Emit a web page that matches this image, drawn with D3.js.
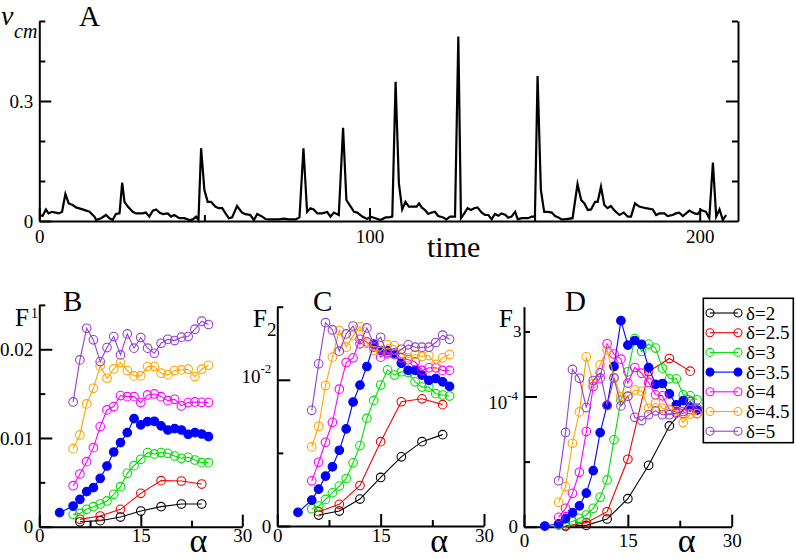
<!DOCTYPE html>
<html><head><meta charset="utf-8">
<script src="https://cdn.jsdelivr.net/npm/d3@7"></script>
<style>
html,body{margin:0;padding:0;background:#fff;}
svg{display:block;}
</style></head><body>
<svg id="chart" width="796" height="559"></svg>
<script>
// ---------- DATA ----------
// Panel A: centre-of-mass velocity vs time
const timeT = [0,1,2,2.8,3.8,4.9,5.9,6.9,7.9,8.9,10.1,11.1,13.1,15.2,16.7,17.2,18.7,20.2,21.2,22.2,23.2,24.3,25.1,25.8,26.8,28.3,29.3,31.3,32.3,33.3,34.4,35.4,36.4,37.4,38.9,39.9,40.9,42.4,43.9,45.5,46.5,47.5,48.2,49,50,51,52,53.3,54.3,55.4,56.4,57.4,58.4,59.9,61.4,62.4,63.9,65,66,67.5,68.5,69.5,72.5,74,75.6,77.6,78.8,80,81.1,82.1,83.1,84.2,85.7,87.2,88.2,89.2,90.7,92,93,94.3,95.3,96.3,97.8,99.3,100.3,101.8,103.3,104.9,105.9,106.9,107.9,108.9,109.9,110.9,111.9,113.2,114.3,115,115.8,116.8,117.8,118.8,119.8,120.8,122.3,123.3,124.4,125.9,126.9,127.7,128.7,129.7,130.7,131.7,132.7,134,135,136,137,138,139,140,141.2,142,143,144.1,144.9,146.1,148.1,149.1,150.1,150.9,151.9,152.9,154,155.2,156.2,157.2,158.2,159.2,161.5,163,164.1,165.1,166.1,167.1,168.3,169.1,170.1,171.1,172.1,173.1,174.2,175.7,177,178.2,179.2,180.4,181.7,183.7,185.8,186.8,187.8,189.3,190.3,191.8,192.8,193.8,194.9,196.9,198.4,199.4,200.4,201.9,202.9,204,205,206,207,208];
const timeV = [0.015,0.0125,0.029,0.019,0.023,0.021,0.019,0.023,0.0675,0.044,0.040,0.034,0.029,0.023,0.011,0.0025,0.007,0.015,0.007,0.0025,0.0175,0.019,0.096,0.048,0.036,0.023,0.019,0.019,0.021,0.011,0.026,0.029,0.021,0.0175,0.019,0.011,0.015,0.007,0.007,0.0025,0.004,0.011,0.0025,0.182,0.0775,0.048,0.048,0.036,0.032,0.032,0.019,0.007,0.009,0.0375,0.021,0.017,0.015,0.0025,0.0175,0.011,0.005,0.004,0.004,0.006,0.004,0.004,0.009,0.182,0.023,0.032,0.029,0.019,0.019,0.0225,0.011,0.021,0.015,0.233,0.0525,0.036,0.023,0.021,0.011,0.005,0.011,0.007,0.0025,0.009,0.009,0.011,0.348,0.094,0.029,0.048,0.036,0.036,0.036,0.044,0.034,0.0275,0.0175,0.021,0.023,0.0125,0.009,0.004,0.011,0.011,0.461,0.007,0.019,0.032,0.0275,0.032,0.034,0.021,0.015,0.015,0.004,0.0175,0.013,0.019,0.015,0.008,0.011,0.023,0.004,0.007,0.007,0.011,0.011,0.3625,0.0775,0.023,0.023,0.021,0.0125,0.009,0.004,0.004,0.007,0.0925,0.0525,0.044,0.0275,0.029,0.048,0.048,0.086,0.040,0.032,0.0375,0.026,0.015,0.021,0.011,0.011,0.044,0.036,0.032,0.029,0.015,0.019,0.019,0.0125,0.015,0.019,0.021,0.0125,0.026,0.019,0.0175,0.0275,0.023,0.007,0.146,0.011,0.029,0.0025,0.015];

// alpha grids
const alphaCoarse = [6,9,12,15,18,21,24];
const alphaFine = [5,6,7,8,9,10,11,12,13,14,15,16,17,18,19,20,21,22,23,24,25];
const alphaBlue = [3,5,6,7,8,9,10,11,12,13,14,15,16,17,18,19,20,21,22,23,24,25];

const deltaLabels = ["δ=2","δ=2.5","δ=3","δ=3.5","δ=4","δ=4.5","δ=5"];
const seriesColors = ["#000000","#f00000","#00e000","#0000ff","#ff00ff","#ffa500","#9440d0"];

// Panel B: F1
const f1_2  = [0.00056,0.00068,0.00109,0.00177,0.00226,0.00256,0.00256];
const f1_25 = [0.00083,0.0012,0.00196,0.00376,0.00519,0.00515,0.00481];
const f1_3  = [0.00139,0.0015,0.00196,0.00226,0.00256,0.0029,0.00365,0.00451,0.00602,0.00688,0.0076,0.00835,0.0082,0.00835,0.00827,0.00797,0.00771,0.00782,0.00752,0.00722,0.00722];
const f1_35 = [0.00158,0.00233,0.00308,0.00395,0.0044,0.00545,0.00684,0.00842,0.00948,0.0106,0.01218,0.01147,0.01184,0.01188,0.01136,0.0109,0.01105,0.0109,0.01042,0.0106,0.01045,0.01015];
const f1_4  = [0.00462,0.00594,0.00733,0.00891,0.01128,0.01316,0.01354,0.01478,0.01466,0.01466,0.01399,0.01485,0.01496,0.01466,0.01421,0.01436,0.01361,0.01399,0.01406,0.01402,0.01399];
const f1_45 = [0.0088,0.01034,0.01384,0.0156,0.01812,0.01673,0.01778,0.0185,0.0176,0.017,0.017,0.01805,0.01805,0.0173,0.01711,0.0176,0.01767,0.01775,0.01692,0.01775,0.0182];
const f1_5  = [0.01406,0.0188,0.02237,0.02106,0.01861,0.02019,0.02143,0.01936,0.02173,0.02012,0.02132,0.02012,0.01955,0.02068,0.02113,0.02098,0.02136,0.02143,0.02226,0.02316,0.02279];

// Panel C: F2
const f2_2  = [0.00075,0.00102,0.00184,0.00332,0.00473,0.00577,0.00625];
const f2_25 = [0.00098,0.00148,0.00277,0.00577,0.0085,0.0087,0.0083];
const f2_3  = [0.00118,0.00136,0.00182,0.00227,0.00273,0.00325,0.00432,0.0055,0.00736,0.00859,0.00964,0.01068,0.01032,0.01055,0.0105,0.00986,0.0095,0.0095,0.00905,0.00896,0.00889];
const f2_35 = [0.00093,0.00177,0.00252,0.00341,0.00405,0.00518,0.00664,0.00848,0.00964,0.01091,0.01241,0.012,0.012,0.01182,0.01114,0.01064,0.01064,0.01032,0.00996,0.01009,0.00986,0.00955];
const f2_4  = [0.00309,0.00436,0.00573,0.00709,0.00936,0.01118,0.0115,0.01277,0.01259,0.01223,0.01155,0.01187,0.01177,0.0115,0.01137,0.01123,0.01064,0.01082,0.01082,0.01064,0.01064];
const f2_45 = [0.00541,0.00682,0.00961,0.01155,0.01337,0.01223,0.01302,0.01364,0.0125,0.012,0.01196,0.01241,0.01234,0.01177,0.0115,0.01173,0.01159,0.01166,0.01105,0.0115,0.01173];
const f2_5  = [0.00791,0.01109,0.01391,0.01341,0.01196,0.01314,0.01368,0.01246,0.01355,0.01246,0.01291,0.01177,0.01173,0.01209,0.01239,0.01223,0.01223,0.01223,0.01255,0.01305,0.01277];

// Panel D: F3 (units of 1e-4)
const f3_2  = [0.005,0.01,0.059,0.215,0.472,0.774,0.96];
const f3_25 = [0.005,0.031,0.115,0.518,1.192,1.292,1.195];
const f3_3  = [0.01,0.026,0.04,0.064,0.09,0.141,0.226,0.359,0.667,0.97,1.19,1.445,1.346,1.403,1.372,1.218,1.136,1.136,1.013,1.005,0.975];
const f3_35 = [0.005,0.022,0.064,0.108,0.16,0.258,0.431,0.723,0.932,1.231,1.583,1.395,1.43,1.40,1.222,1.094,1.10,1.02,0.936,0.969,0.92,0.895];
const f3_4  = [0.072,0.141,0.256,0.418,0.731,1.077,1.141,1.405,1.326,1.287,1.103,1.223,1.179,1.108,1.013,1.005,0.9,0.88,0.87,0.9,0.87];
const f3_45 = [0.187,0.308,0.641,0.882,1.305,1.1,1.244,1.359,1.148,1.0,1.0,1.05,1.04,0.91,0.949,0.91,0.897,0.892,0.8,0.865,0.867];
const f3_5  = [0.353,0.724,1.208,1.14,0.915,1.123,1.182,0.932,1.141,0.928,1.003,0.84,0.815,0.86,0.89,0.86,0.86,0.872,0.885,0.962,0.91];

const xTicksAlphaMajor = [0,15,30];
const xTicksAlphaMinor = [7.5,22.5];

// ---------- DRAW ----------
const FONT = "Liberation Serif, Times New Roman, Times, Nimbus Roman, Nimbus Roman No9 L, Tinos, Noto Serif, DejaVu Serif, FreeSerif, serif";
const svg = d3.select("#chart").attr("font-family", FONT);

function styleAxis(g, fs) {
  g.attr("font-family", FONT).attr("font-size", fs || 19);
  g.selectAll("path,line").attr("stroke", "#000").attr("stroke-width", 2);
  g.selectAll("text").attr("fill", "#000");
}

// ---- Panel A ----
const xA = d3.scaleLinear().domain([0, 211.6]).range([39.3, 738]);
const yA = d3.scaleLinear().domain([0, 0.5]).range([221, 21]);

const gA = svg.append("g");
styleAxis(gA.append("g").attr("transform", "translate(0,221)")
  .call(d3.axisBottom(xA).tickValues([0,100,200]).tickSizeInner(-13).tickSizeOuter(0).tickPadding(9).tickFormat(d3.format("d"))));
styleAxis(gA.append("g").attr("transform", "translate(0,221)")
  .call(d3.axisBottom(xA).tickValues([50,150]).tickSizeInner(-6).tickSizeOuter(0).tickFormat(""))
  .call(g => g.select(".domain").remove()));
styleAxis(gA.append("g").attr("transform", "translate(39.3,0)")
  .call(d3.axisLeft(yA).tickValues([0,0.3]).tickSizeInner(-12).tickSizeOuter(0).tickPadding(6).tickFormat(d => d === 0 ? "0" : d3.format(".1f")(d))));
styleAxis(gA.append("g").attr("transform", "translate(39.3,0)")
  .call(d3.axisLeft(yA).tickValues([0.1,0.2,0.4,0.5]).tickSizeInner(-6).tickSizeOuter(0).tickFormat(""))
  .call(g => g.select(".domain").remove()));
styleAxis(gA.append("g").attr("transform", "translate(738,0)")
  .call(d3.axisRight(yA).tickValues([0.3]).tickSizeInner(-12).tickSizeOuter(0).tickFormat("")));
styleAxis(gA.append("g").attr("transform", "translate(738,0)")
  .call(d3.axisRight(yA).tickValues([0.1,0.2,0.4,0.5]).tickSizeInner(-6).tickSizeOuter(0).tickFormat(""))
  .call(g => g.select(".domain").remove()));

const tsData = timeT.map((t, i) => [t, timeV[i]]);
gA.append("path").datum(tsData)
  .attr("fill", "none").attr("stroke", "#000").attr("stroke-width", 2.2)
  .attr("stroke-linejoin", "miter").attr("stroke-miterlimit", 6)
  .attr("d", d3.line().x(d => xA(d[0])).y(d => yA(d[1])));

gA.append("text").attr("x", 79).attr("y", 26).attr("font-size", 29).text("A");
gA.append("text").attr("x", 1).attr("y", 25).attr("font-size", 28).attr("font-style", "italic").text("v");
gA.append("text").attr("x", 14).attr("y", 38).attr("font-size", 20).attr("font-style", "italic").text("cm");
gA.append("text").attr("x", 427).attr("y", 257).attr("font-size", 30).text("time");

// ---- Panels B, C, D ----
function seriesSet(a2, a25, a3, a35, a4, a45, a5) {
  const ys = [a2, a25, a3, a35, a4, a45, a5];
  const xs = [alphaCoarse, alphaCoarse, alphaFine, alphaBlue, alphaFine, alphaFine, alphaFine];
  return ys.map((y, i) => ({
    color: seriesColors[i],
    filled: i === 3,
    pts: xs[i].map((a, j) => [a, y[j]])
  }));
}

const panels = [
  { letter: "B", lx: 63, xr: [39.3, 242.3], yr: [526.7, 304.9], ydom: [0, 0.025],
    major: [0, 0.01, 0.02], minor: [0.005, 0.015, 0.025],
    fmt: d => d === 0 ? "0" : d3.format(".2f")(d), sup: null, supDy: 0,
    xPad: 2, F: { x: 15, y: 326, sub: "1", sx: 31, sy: 318, sfs: 14 },
    series: seriesSet(f1_2, f1_25, f1_3, f1_35, f1_4, f1_45, f1_5) },
  { letter: "C", lx: 313, xr: [277.3, 484], yr: [526, 306.7], ydom: [0, 0.015],
    major: [0, 0.01], minor: [0.005, 0.015],
    fmt: d => d === 0 ? "0" : "10", sup: "-2", supDy: "0.15em",
    xPad: 2, F: { x: 253, y: 327, sub: "2", sx: 267, sy: 336, sfs: 19 },
    series: seriesSet(f2_2, f2_25, f2_3, f2_35, f2_4, f2_45, f2_5) },
  { letter: "D", lx: 565, xr: [524, 731.7], yr: [526.7, 306.7], ydom: [0, 1.69],
    major: [0, 1], minor: [0.5, 1.5],
    fmt: d => d === 0 ? "0" : "10", sup: "-4", supDy: "0.65em",
    xPad: 7, F: { x: 499, y: 327, sub: "3", sx: 513, sy: 337, sfs: 17 },
    series: seriesSet(f3_2, f3_25, f3_3, f3_35, f3_4, f3_45, f3_5) }
];

panels.forEach(p => {
  const x = d3.scaleLinear().domain([0, 30]).range(p.xr);
  const y = d3.scaleLinear().domain(p.ydom).range(p.yr);
  const g = svg.append("g");
  const by = p.yr[0];

  styleAxis(g.append("g").attr("transform", `translate(0,${by})`)
    .call(d3.axisBottom(x).tickValues(xTicksAlphaMajor).tickSizeInner(-12).tickSizeOuter(0).tickPadding(p.xPad).tickFormat(d3.format("d"))));
  styleAxis(g.append("g").attr("transform", `translate(0,${by})`)
    .call(d3.axisBottom(x).tickValues(xTicksAlphaMinor).tickSizeInner(-6).tickSizeOuter(0).tickFormat(""))
    .call(gg => gg.select(".domain").remove()));

  const yAx = g.append("g").attr("transform", `translate(${p.xr[0]},0)`)
    .call(d3.axisLeft(y).tickValues(p.major).tickSizeInner(-13).tickSizeOuter(0).tickPadding(6).tickFormat(p.fmt));
  styleAxis(yAx);
  if (p.sup) {
    yAx.selectAll(".tick text").filter(d => d !== 0).each(function() {
      const t = d3.select(this);
      t.attr("dy", p.supDy);
      t.append("tspan").attr("font-size", 13).attr("dy", "-0.75em").text(p.sup);
    });
  }
  styleAxis(g.append("g").attr("transform", `translate(${p.xr[0]},0)`)
    .call(d3.axisLeft(y).tickValues(p.minor).tickSizeInner(-6).tickSizeOuter(0).tickFormat(""))
    .call(gg => gg.select(".domain").remove()));

  const line = d3.line().x(d => x(d[0])).y(d => y(d[1]));
  p.series.forEach(s => {
    g.append("path").datum(s.pts).attr("fill", "none").attr("stroke", s.color)
      .attr("stroke-width", 1.1).attr("d", line);
    g.selectAll(null).data(s.pts).enter().append("circle")
      .attr("cx", d => x(d[0])).attr("cy", d => y(d[1])).attr("r", 4.3)
      .attr("fill", s.filled ? s.color : "none")
      .attr("stroke", s.color).attr("stroke-width", 1.1);
  });

  g.append("text").attr("x", p.lx).attr("y", 311).attr("font-size", 29).text(p.letter);
  g.append("text").attr("x", p.F.x).attr("y", p.F.y).attr("font-size", 25).text("F");
  g.append("text").attr("x", p.F.sx).attr("y", p.F.sy).attr("font-size", p.F.sfs).text(p.F.sub);
  g.append("text").attr("x", x(23.5)).attr("y", 552).attr("text-anchor", "middle")
    .attr("font-size", 34).text("α");
});

// ---- Legend ----
const lg = svg.append("g");
lg.append("rect").attr("x", 703.3).attr("y", 298.3).attr("width", 90).attr("height", 144.4)
  .attr("fill", "#fff").attr("stroke", "#000").attr("stroke-width", 1.6);
deltaLabels.forEach((lab, i) => {
  const yy = 313 + i * 19.7;
  const c = seriesColors[i];
  lg.append("line").attr("x1", 710).attr("x2", 738).attr("y1", yy).attr("y2", yy)
    .attr("stroke", c).attr("stroke-width", 1.1);
  [710, 738].forEach(cx => lg.append("circle").attr("cx", cx).attr("cy", yy).attr("r", 4)
    .attr("fill", i === 3 ? c : "none").attr("stroke", c).attr("stroke-width", 1.1));
  lg.append("text").attr("x", 746).attr("y", yy).attr("dy", "0.35em").attr("font-size", 19).text(lab);
});
</script>
</body></html>
